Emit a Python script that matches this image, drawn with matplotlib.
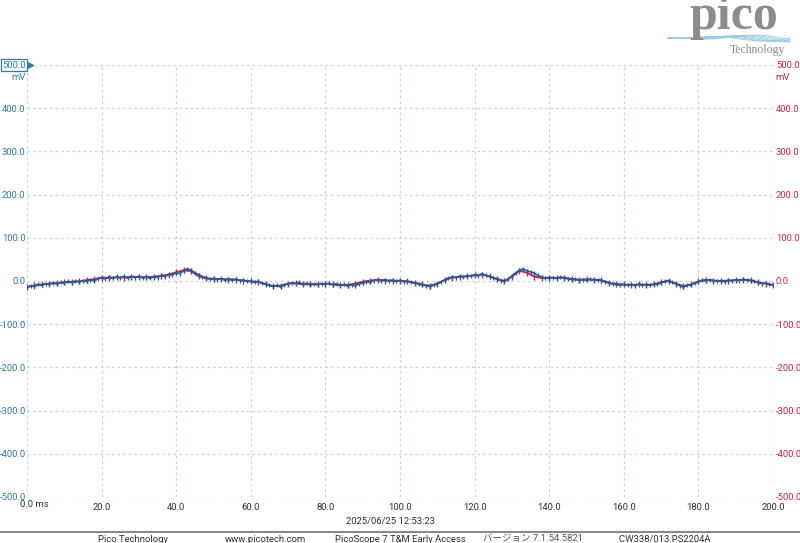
import numpy as np
import matplotlib.pyplot as plt

plt.rcParams['font.family'] = ['Roboto', 'Noto Sans CJK JP', 'DejaVu Sans']

# channel A (blue), 1 ms steps, mV
t_a = list(range(0, 201))
ch_a = [
    -15, -11, -13, -8, -10, -6, -8, -4, -7, -3,
    -5, -1, -4, 0, -2, 1, -1, 3, 0, 5,
    7, 5, 10, 6, 9, 7, 11, 6, 10, 8,
    11, 7, 9, 6, 10, 8, 13, 10, 15, 14,
    19, 17, 24, 28, 25, 19, 15, 10, 8, 5,
    6, 3, 5, 2, 5, 3, 4, 1, 2, -1,
    0, -3, -1, -5, -8, -10, -13, -10, -14, -9,
    -7, -4, -6, -3, -7, -5, -10, -7, -9, -6,
    -8, -5, -9, -6, -10, -8, -12, -9, -11, -7,
    -5, -2, -3, 1, 2, 0, 3, 1, 2, -1,
    1, -2, 0, -3, -5, -7, -9, -11, -13, -10,
    -7, -2, 3, 7, 9, 8, 11, 9, 12, 11,
    14, 12, 17, 13, 10, 7, 4, 1, -1, 4,
    12, 19, 25, 28, 24, 21, 18, 13, 9, 7,
    6, 8, 6, 9, 7, 5, 3, 4, 1, 3,
    2, 4, 2, 3, 1, -2, -5, -7, -8, -10,
    -8, -10, -8, -11, -7, -9, -8, -10, -7, -8,
    -4, -1, 1, -3, -7, -11, -14, -10, -9, -5,
    -2, 2, 0, 3, 1, -1, 1, -2, 2, 0,
    3, 1, 4, 2, 1, -1, -4, -6, -5, -8,
    -10,
]

# channel B (red), 2 ms steps, mV
t_b = list(range(0, 201, 2))
ch_b = [
    -14, -10, -8, -6, -5, -3, -2, -1, 2, 4,
    8, 7, 9, 8, 10, 9, 9, 10, 12, 15,
    20, 25, 23, 11, 6, 4, 5, 3, 3, 1,
    -1, -2, -7, -12, -11, -6, -5, -8, -7, -7,
    -6, -8, -10, -9, -6, -2, 1, 3, 1, 0,
    1, -1, -4, -8, -11, -6, 2, 8, 10, 11,
    13, 15, 11, 5, 0, 10, 24, 19, 10, 7,
    8, 7, 8, 5, 3, 4, 3, 2, -4, -7,
    -8, -9, -8, -9, -8, -3, 0, -6, -12, -8,
    -1, 3, 1, 0, 1, 2, 3, 2, -3, -6,
    -9,
]

x_ticks = list(range(0, 201, 20))
x_labels = ['', '20.0', '40.0', '60.0', '80.0', '100.0', '120.0', '140.0', '160.0', '180.0', '200.0']
y_ticks = list(range(-500, 501, 100))
y_labels = ['%.1f' % v for v in y_ticks]

footer = ['Pico Technology', 'www.picotech.com', 'PicoScope 7 T&M Early Access',
          'バージョン 7.1.54.5821', 'CW338/013 PS2204A']
footer_x = [133, 265, 400, 533, 665]
footer_c = ['#333333', '#333333', '#333333', '#555555', '#333333']

blue = '#1f5f99'
red = '#c8234b'
lblue = '#2f7aa8'
fs = 6.8

fig = plt.figure(figsize=(8, 5.43), dpi=100)
ax = fig.add_axes([27/800, 1-497/543, 746/800, 432/543])

ax.plot(t_b, ch_b, color=red, lw=1.4, marker='|', ms=4, mew=1.0)
ax.plot(t_a, ch_a, color=blue, lw=1.2, marker='|', ms=3.5, mew=0.9)

ax.set_xlim(0, 200)
ax.set_ylim(-500, 500)
for s in ax.spines.values():
    s.set_visible(False)
ax.set_xticks(x_ticks)
ax.set_yticks(y_ticks)
ax.grid(True, color='#bfd8e4', lw=0.9, ls=(0, (2, 2.5)))
ax.tick_params(length=0)
ax.set_xticklabels(x_labels, fontsize=fs, color='#333333')
ax.tick_params(axis='x', pad=4)
ax.set_yticklabels([l if v != 500 else '' for v, l in zip(y_ticks, y_labels)],
                   fontsize=fs, color=lblue)
ax.tick_params(axis='y', pad=1)

ax2 = ax.twinx()
ax2.set_ylim(-500, 500)
for s in ax2.spines.values():
    s.set_visible(False)
ax2.set_yticks(y_ticks)
ax2.set_yticklabels(y_labels, fontsize=fs, color=red)
ax2.tick_params(length=0, pad=2)

ax.text(-1.9, -507, '0.0 ms', ha='left', va='top', fontsize=fs, color='#333333')

# left 500.0 box with marker
fig.text(2/800, 1-65/543, '500.0', ha='left', va='center', fontsize=fs, color=lblue,
         bbox=dict(boxstyle='square,pad=0.15', fc='white', ec=lblue, lw=0.9))
ax.plot([0.6], [500], marker='>', color=lblue, ms=6, clip_on=False)
fig.text(26/800, 1-77/543, 'mV', ha='right', va='center', fontsize=fs, color=lblue)
fig.text(775/800, 1-77/543, 'mV', ha='left', va='center', fontsize=fs, color=red)

fig.text(390/800, 1-521/543, '2025/06/25 12:53:23', ha='center', va='center',
         fontsize=fs, color='#333333')
fig.add_artist(plt.Line2D([0, 1], [1-532/543, 1-532/543], color='#888888', lw=1.5))
for label, xp, c in zip(footer, footer_x, footer_c):
    fig.text(xp/800, 1-539/543, label, ha='center', va='center', fontsize=fs, color=c)

# logo
fig.text(734/800, 1-17/543, 'pico', ha='center', va='center', fontsize=36,
         family='Liberation Serif', weight='bold', color='#8c8c8c')
fig.text(757/800, 1-50/543, 'Technology', ha='center', va='center', fontsize=8.5,
         family='Liberation Serif', color='#8a8a8a')
lx = np.linspace(668, 790, 80)
for k in range(7):
    ly = 38 + 4*np.sin((lx - 668)/18 + k*0.45) * (lx - 668)/122
    fig.add_artist(plt.Line2D(lx/800, 1-ly/543, color='#9ccbe0', lw=0.6))

fig.savefig('out.png', dpi=100)
